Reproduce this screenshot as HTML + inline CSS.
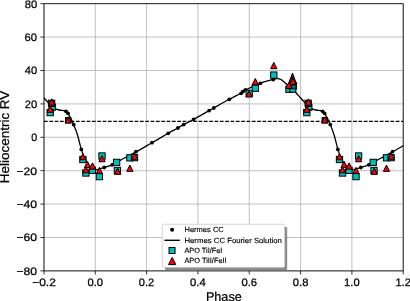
<!DOCTYPE html><html><head><meta charset="utf-8"><style>html,body{margin:0;padding:0;background:#fff;}svg{display:block;}text{font-family:"Liberation Sans", sans-serif;fill:#000;}svg{will-change:transform}text{stroke:#000;stroke-width:0.25px;text-rendering:geometricPrecision;}</style></head><body>
<svg width="410" height="301" viewBox="0 0 410 301">
<rect width="410" height="301" fill="#fff"/>
<defs><clipPath id="ax"><rect x="44.00" y="3.70" width="359.20" height="267.20"/></clipPath></defs>
<path d="M43.98,3.70V270.90M95.30,3.70V270.90M146.62,3.70V270.90M197.94,3.70V270.90M249.26,3.70V270.90M300.58,3.70V270.90M351.90,3.70V270.90M403.22,3.70V270.90M44.00,270.90H403.20M44.00,237.50H403.20M44.00,204.10H403.20M44.00,170.70H403.20M44.00,137.30H403.20M44.00,103.90H403.20M44.00,70.50H403.20M44.00,37.10H403.20M44.00,3.70H403.20" stroke="#b0b0b0" stroke-width="0.8" fill="none"/>
<g clip-path="url(#ax)">
<path d="M44.00,121.35H403.20" stroke="#000" stroke-width="1.2" stroke-dasharray="3.72,1.61" fill="none"/>
<g fill="#000"><circle cx="66.00" cy="111.30" r="1.9"/><circle cx="322.60" cy="111.30" r="1.9"/><circle cx="68.00" cy="113.30" r="1.9"/><circle cx="324.60" cy="113.30" r="1.9"/><circle cx="73.70" cy="124.60" r="1.9"/><circle cx="330.30" cy="124.60" r="1.9"/><circle cx="81.30" cy="149.40" r="1.9"/><circle cx="337.90" cy="149.40" r="1.9"/><circle cx="104.20" cy="167.50" r="1.9"/><circle cx="360.80" cy="167.50" r="1.9"/><circle cx="112.20" cy="164.80" r="1.9"/><circle cx="368.80" cy="164.80" r="1.9"/><circle cx="136.00" cy="151.60" r="1.9"/><circle cx="392.60" cy="151.60" r="1.9"/><circle cx="152.00" cy="142.70" r="1.9"/><circle cx="168.20" cy="133.30" r="1.9"/><circle cx="177.90" cy="128.00" r="1.9"/><circle cx="183.70" cy="124.60" r="1.9"/><circle cx="193.60" cy="119.45" r="1.9"/><circle cx="209.20" cy="110.60" r="1.9"/><circle cx="213.80" cy="108.00" r="1.9"/><circle cx="229.30" cy="99.30" r="1.9"/><circle cx="241.10" cy="93.30" r="1.9"/><circle cx="243.00" cy="91.50" r="1.9"/><circle cx="245.50" cy="89.80" r="1.9"/><circle cx="260.30" cy="83.30" r="1.9"/><circle cx="273.30" cy="79.60" r="1.9"/></g>
<path d="M-161.30,169.60 C-160.52,169.47 -158.08,169.15 -156.60,168.80 C-155.12,168.45 -154.43,168.17 -152.40,167.50 C-150.37,166.83 -147.70,166.33 -144.40,164.80 C-141.10,163.27 -136.57,160.45 -132.60,158.30 C-128.63,156.15 -125.27,154.50 -120.60,151.90 C-115.93,149.30 -109.97,145.80 -104.60,142.70 C-99.23,139.60 -92.72,135.75 -88.40,133.30 C-84.08,130.85 -81.28,129.45 -78.70,128.00 C-76.12,126.55 -75.52,126.02 -72.90,124.60 C-70.28,123.17 -67.25,121.78 -63.00,119.45 C-58.75,117.12 -50.77,112.51 -47.40,110.60 C-44.03,108.69 -46.15,109.88 -42.80,108.00 C-39.45,106.12 -31.85,101.77 -27.30,99.30 C-22.75,96.83 -18.20,94.75 -15.50,93.20 C-12.80,91.65 -14.30,91.65 -11.10,90.00 C-7.90,88.35 -0.93,85.07 3.70,83.30 C8.33,81.53 13.92,80.18 16.70,79.40 C19.48,78.62 19.12,78.58 20.40,78.60 C21.68,78.62 22.73,78.52 24.40,79.50 C26.07,80.48 28.73,83.00 30.40,84.50 C32.07,86.00 32.98,87.20 34.40,88.50 C35.82,89.80 37.30,90.72 38.90,92.30 C40.50,93.88 42.48,96.33 44.00,98.00 C45.52,99.67 46.77,101.00 48.00,102.30 C49.23,103.60 50.23,104.75 51.40,105.80 C52.57,106.85 53.67,107.90 55.00,108.60 C56.33,109.30 57.90,109.67 59.40,110.00 C60.90,110.33 62.90,110.38 64.00,110.60 C65.10,110.82 65.33,110.85 66.00,111.30 C66.67,111.75 67.18,112.10 68.00,113.30 C68.82,114.50 69.95,116.62 70.90,118.50 C71.85,120.38 72.60,121.85 73.70,124.60 C74.80,127.35 76.23,130.87 77.50,135.00 C78.77,139.13 80.18,145.65 81.30,149.40 C82.42,153.15 83.10,155.07 84.20,157.50 C85.30,159.93 86.62,162.25 87.90,164.00 C89.18,165.75 90.67,167.07 91.90,168.00 C93.13,168.93 93.95,169.47 95.30,169.60 C96.65,169.73 98.52,169.15 100.00,168.80 C101.48,168.45 102.17,168.17 104.20,167.50 C106.23,166.83 108.90,166.33 112.20,164.80 C115.50,163.27 120.03,160.45 124.00,158.30 C127.97,156.15 131.33,154.50 136.00,151.90 C140.67,149.30 146.63,145.80 152.00,142.70 C157.37,139.60 163.88,135.75 168.20,133.30 C172.52,130.85 175.32,129.45 177.90,128.00 C180.48,126.55 181.08,126.02 183.70,124.60 C186.32,123.17 189.35,121.78 193.60,119.45 C197.85,117.12 205.83,112.51 209.20,110.60 C212.57,108.69 210.45,109.88 213.80,108.00 C217.15,106.12 224.75,101.77 229.30,99.30 C233.85,96.83 238.40,94.75 241.10,93.20 C243.80,91.65 242.30,91.65 245.50,90.00 C248.70,88.35 255.67,85.07 260.30,83.30 C264.93,81.53 270.52,80.18 273.30,79.40 C276.08,78.62 275.72,78.58 277.00,78.60 C278.28,78.62 279.33,78.52 281.00,79.50 C282.67,80.48 285.33,83.00 287.00,84.50 C288.67,86.00 289.58,87.20 291.00,88.50 C292.42,89.80 293.90,90.72 295.50,92.30 C297.10,93.88 299.08,96.33 300.60,98.00 C302.12,99.67 303.37,101.00 304.60,102.30 C305.83,103.60 306.83,104.75 308.00,105.80 C309.17,106.85 310.27,107.90 311.60,108.60 C312.93,109.30 314.50,109.67 316.00,110.00 C317.50,110.33 319.50,110.38 320.60,110.60 C321.70,110.82 321.93,110.85 322.60,111.30 C323.27,111.75 323.78,112.10 324.60,113.30 C325.42,114.50 326.55,116.62 327.50,118.50 C328.45,120.38 329.20,121.85 330.30,124.60 C331.40,127.35 332.83,130.87 334.10,135.00 C335.37,139.13 336.78,145.65 337.90,149.40 C339.02,153.15 339.70,155.07 340.80,157.50 C341.90,159.93 343.22,162.25 344.50,164.00 C345.78,165.75 347.27,167.07 348.50,168.00 C349.73,168.93 350.55,169.47 351.90,169.60 C353.25,169.73 355.12,169.15 356.60,168.80 C358.08,168.45 358.77,168.17 360.80,167.50 C362.83,166.83 365.50,166.33 368.80,164.80 C372.10,163.27 376.63,160.45 380.60,158.30 C384.57,156.15 387.93,154.50 392.60,151.90 C397.27,149.30 403.23,145.80 408.60,142.70 C413.97,139.60 420.48,135.75 424.80,133.30 C429.12,130.85 431.92,129.45 434.50,128.00 C437.08,126.55 437.68,126.02 440.30,124.60 C442.92,123.17 445.95,121.78 450.20,119.45 C454.45,117.12 462.43,112.51 465.80,110.60 C469.17,108.69 467.05,109.88 470.40,108.00 C473.75,106.12 481.35,101.77 485.90,99.30 C490.45,96.83 495.00,94.75 497.70,93.20 C500.40,91.65 498.90,91.65 502.10,90.00 C505.30,88.35 512.27,85.07 516.90,83.30 C521.53,81.53 527.12,80.18 529.90,79.40 C532.68,78.62 532.32,78.58 533.60,78.60 C534.88,78.62 535.93,78.52 537.60,79.50 C539.27,80.48 541.93,83.00 543.60,84.50 C545.27,86.00 546.18,87.20 547.60,88.50 C549.02,89.80 550.50,90.72 552.10,92.30 C553.70,93.88 555.68,96.33 557.20,98.00 C558.72,99.67 559.97,101.00 561.20,102.30 C562.43,103.60 563.43,104.75 564.60,105.80 C565.77,106.85 566.87,107.90 568.20,108.60 C569.53,109.30 571.10,109.67 572.60,110.00 C574.10,110.33 576.10,110.38 577.20,110.60 C578.30,110.82 578.53,110.85 579.20,111.30 C579.87,111.75 580.38,112.10 581.20,113.30 C582.02,114.50 583.15,116.62 584.10,118.50 C585.05,120.38 585.80,121.85 586.90,124.60 C588.00,127.35 589.43,130.87 590.70,135.00 C591.97,139.13 593.38,145.65 594.50,149.40 C595.62,153.15 596.30,155.07 597.40,157.50 C598.50,159.93 599.82,162.25 601.10,164.00 C602.38,165.75 604.43,167.33 605.10,168.00" stroke="#000" stroke-width="1.3" fill="none" stroke-linejoin="round"/>
<g fill="#00bfbf" stroke="#000" stroke-width="1.00"><rect x="49.05" y="104.05" width="6.30" height="6.30"/><rect x="305.65" y="104.05" width="6.30" height="6.30"/><rect x="47.05" y="109.45" width="6.30" height="6.30"/><rect x="303.65" y="109.45" width="6.30" height="6.30"/><rect x="79.75" y="156.35" width="6.30" height="6.30"/><rect x="336.35" y="156.35" width="6.30" height="6.30"/><rect x="82.75" y="169.85" width="6.30" height="6.30"/><rect x="339.35" y="169.85" width="6.30" height="6.30"/><rect x="89.25" y="167.15" width="6.30" height="6.30"/><rect x="345.85" y="167.15" width="6.30" height="6.30"/><rect x="96.25" y="173.45" width="6.30" height="6.30"/><rect x="352.85" y="173.45" width="6.30" height="6.30"/><rect x="98.85" y="152.85" width="6.30" height="6.30"/><rect x="355.45" y="152.85" width="6.30" height="6.30"/><rect x="113.45" y="159.25" width="6.30" height="6.30"/><rect x="370.05" y="159.25" width="6.30" height="6.30"/><rect x="114.25" y="167.35" width="6.30" height="6.30"/><rect x="370.85" y="167.35" width="6.30" height="6.30"/><rect x="126.75" y="154.65" width="6.30" height="6.30"/><rect x="383.35" y="154.65" width="6.30" height="6.30"/><rect x="131.35" y="154.45" width="6.30" height="6.30"/><rect x="387.95" y="154.45" width="6.30" height="6.30"/><rect x="246.05" y="90.15" width="6.30" height="6.30"/><rect x="252.15" y="85.05" width="6.30" height="6.30"/><rect x="270.65" y="71.95" width="6.30" height="6.30"/></g>
<g fill="#000"><rect x="65.05" y="117.05" width="6.30" height="6.30"/><rect x="321.65" y="117.05" width="6.30" height="6.30"/></g>
<g fill="#00bfbf" stroke="#000" stroke-width="1.00"><rect x="285.85" y="86.15" width="6.30" height="6.30"/><rect x="290.25" y="82.75" width="6.30" height="6.30"/><rect x="289.55" y="85.85" width="6.30" height="6.30"/></g>
<rect x="289.6" y="87.5" width="6.2" height="1.9" fill="#0b2b2b"/>
<g fill="#1d5555" stroke="#000" stroke-width="1.00"><rect x="48.45" y="100.15" width="6.30" height="6.30"/><rect x="305.05" y="100.15" width="6.30" height="6.30"/></g>
<path d="M292.5,73.1L288.3,84.2L296.6,84.2Z" fill="#5a0808" stroke="#000" stroke-width="1.00"/>
<g fill="#ff0000" stroke="#000" stroke-width="1.00" stroke-linejoin="miter"><path d="M51.85,98.85L48.70,105.15L55.00,105.15Z"/><path d="M308.45,98.85L305.30,105.15L311.60,105.15Z"/><path d="M50.20,106.05L47.05,112.35L53.35,112.35Z"/><path d="M306.80,106.05L303.65,112.35L309.95,112.35Z"/><path d="M68.20,116.75L65.05,123.05L71.35,123.05Z"/><path d="M324.80,116.75L321.65,123.05L327.95,123.05Z"/><path d="M82.90,153.45L79.75,159.75L86.05,159.75Z"/><path d="M339.50,153.45L336.35,159.75L342.65,159.75Z"/><path d="M85.90,166.55L82.75,172.85L89.05,172.85Z"/><path d="M342.50,166.55L339.35,172.85L345.65,172.85Z"/><path d="M87.50,161.25L84.35,167.55L90.65,167.55Z"/><path d="M344.10,161.25L340.95,167.55L347.25,167.55Z"/><path d="M92.50,162.85L89.35,169.15L95.65,169.15Z"/><path d="M349.10,162.85L345.95,169.15L352.25,169.15Z"/><path d="M99.40,167.35L96.25,173.65L102.55,173.65Z"/><path d="M356.00,167.35L352.85,173.65L359.15,173.65Z"/><path d="M102.00,155.45L98.85,161.75L105.15,161.75Z"/><path d="M358.60,155.45L355.45,161.75L361.75,161.75Z"/><path d="M117.60,168.05L114.45,174.35L120.75,174.35Z"/><path d="M374.20,168.05L371.05,174.35L377.35,174.35Z"/><path d="M129.90,165.05L126.75,171.35L133.05,171.35Z"/><path d="M386.50,165.05L383.35,171.35L389.65,171.35Z"/><path d="M134.60,152.95L131.45,159.25L137.75,159.25Z"/><path d="M391.20,152.95L388.05,159.25L394.35,159.25Z"/><path d="M249.10,90.75L245.95,97.05L252.25,97.05Z"/><path d="M255.30,78.45L252.15,84.75L258.45,84.75Z"/><path d="M273.80,62.40L270.65,68.70L276.95,68.70Z"/><path d="M292.90,78.25L289.75,84.55L296.05,84.55Z"/><path d="M289.00,82.15L285.85,88.45L292.15,88.45Z"/></g>
</g>
<rect x="44.00" y="3.70" width="359.20" height="267.20" fill="none" stroke="#000" stroke-width="0.8"/>
<path d="M43.98,270.90v3.6M95.30,270.90v3.6M146.62,270.90v3.6M197.94,270.90v3.6M249.26,270.90v3.6M300.58,270.90v3.6M351.90,270.90v3.6M403.22,270.90v3.6M44.00,270.90h-3.6M44.00,237.50h-3.6M44.00,204.10h-3.6M44.00,170.70h-3.6M44.00,137.30h-3.6M44.00,103.90h-3.6M44.00,70.50h-3.6M44.00,37.10h-3.6M44.00,3.70h-3.6" stroke="#000" stroke-width="0.8" fill="none"/>
<text x="16.51" y="274.70" font-size="10.79" textLength="20.65" lengthAdjust="spacingAndGlyphs">−80</text>
<text x="16.51" y="241.30" font-size="10.79" textLength="20.65" lengthAdjust="spacingAndGlyphs">−60</text>
<text x="16.51" y="207.90" font-size="10.79" textLength="20.65" lengthAdjust="spacingAndGlyphs">−40</text>
<text x="16.51" y="174.50" font-size="10.79" textLength="20.65" lengthAdjust="spacingAndGlyphs">−20</text>
<text x="31.17" y="141.10" font-size="10.79" textLength="5.92" lengthAdjust="spacingAndGlyphs">0</text>
<text x="24.68" y="107.70" font-size="10.79" textLength="12.44" lengthAdjust="spacingAndGlyphs">20</text>
<text x="24.74" y="74.30" font-size="10.79" textLength="12.38" lengthAdjust="spacingAndGlyphs">40</text>
<text x="24.63" y="40.90" font-size="10.79" textLength="12.48" lengthAdjust="spacingAndGlyphs">60</text>
<text x="24.70" y="7.50" font-size="10.79" textLength="12.42" lengthAdjust="spacingAndGlyphs">80</text>
<text x="32.20" y="285.60" font-size="10.79" textLength="23.64" lengthAdjust="spacingAndGlyphs">−0.2</text>
<text x="87.50" y="285.60" font-size="10.79" textLength="15.60" lengthAdjust="spacingAndGlyphs">0.0</text>
<text x="138.82" y="285.60" font-size="10.79" textLength="15.37" lengthAdjust="spacingAndGlyphs">0.2</text>
<text x="190.14" y="285.60" font-size="10.79" textLength="15.60" lengthAdjust="spacingAndGlyphs">0.4</text>
<text x="241.45" y="285.60" font-size="10.79" textLength="15.70" lengthAdjust="spacingAndGlyphs">0.6</text>
<text x="292.78" y="285.60" font-size="10.79" textLength="15.63" lengthAdjust="spacingAndGlyphs">0.8</text>
<text x="344.13" y="285.60" font-size="10.79" textLength="15.57" lengthAdjust="spacingAndGlyphs">1.0</text>
<text x="395.46" y="285.60" font-size="10.79" textLength="15.34" lengthAdjust="spacingAndGlyphs">1.2</text>
<text x="205.91" y="300.60" font-size="12.80" textLength="35.84" lengthAdjust="spacingAndGlyphs">Phase</text>
<g transform="translate(9.1,136.95) rotate(-90)"><text x="-46.19" y="0.00" font-size="12.80" textLength="92.42" lengthAdjust="spacingAndGlyphs">Heliocentric RV</text></g>
<rect x="164.90" y="226.90" width="122.30" height="43.00" rx="1.2" fill="#808080" fill-opacity="0.9"/>
<rect x="162.30" y="224.30" width="122.30" height="43.00" rx="1.2" fill="#fff" stroke="#cccccc" stroke-width="0.8"/>
<circle cx="172.1" cy="229.8" r="2.0" fill="#000"/>
<path d="M164.4,240.3H179.8" stroke="#000" stroke-width="1.4"/>
<g fill="#00bfbf" stroke="#000" stroke-width="1.00"><rect x="169.05" y="247.50" width="6.00" height="6.00"/></g>
<g fill="#ff0000" stroke="#000" stroke-width="1.00"><path d="M172.20,257.40L168.60,264.60L175.80,264.60Z"/></g>
<text x="184.47" y="232.40" font-size="7.47" textLength="39.33" lengthAdjust="spacingAndGlyphs" style="stroke-width:0.15px">Hermes CC</text>
<text x="184.46" y="242.53" font-size="7.47" textLength="97.48" lengthAdjust="spacingAndGlyphs" style="stroke-width:0.15px">Hermes CC Fourier Solution</text>
<text x="184.44" y="252.66" font-size="7.47" textLength="37.99" lengthAdjust="spacingAndGlyphs" style="stroke-width:0.15px">APO TiI/FeI</text>
<text x="184.44" y="262.79" font-size="7.47" textLength="42.15" lengthAdjust="spacingAndGlyphs" style="stroke-width:0.15px">APO TiII/FeII</text>
</svg></body></html>
